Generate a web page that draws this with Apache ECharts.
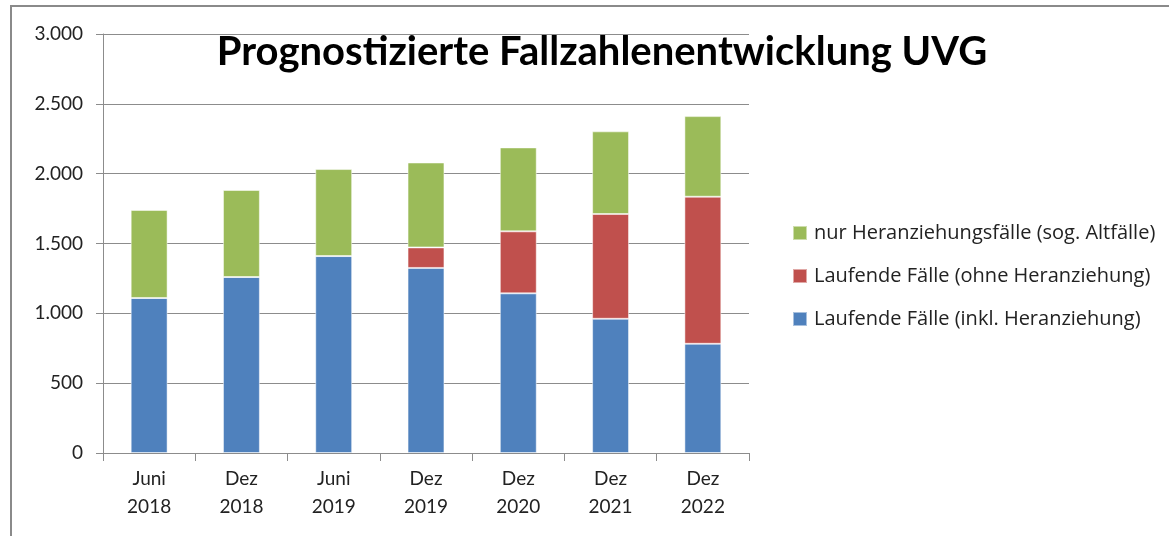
<!DOCTYPE html>
<html>
<head>
<meta charset="utf-8">
<script src="https://cdn.jsdelivr.net/npm/echarts@6/dist/echarts.min.js"></script>
<style>
  html, body { margin: 0; padding: 0; background: #fff; }
  #chart { width: 1169px; height: 536px; }
</style>
</head>
<body>
<div id="chart"></div>
<script>
const categories = ["Juni\n2018", "Dez\n2018", "Juni\n2019", "Dez\n2019", "Dez\n2020", "Dez\n2021", "Dez\n2022"];
const laufendInkl = [1110, 1260, 1410, 1325, 1143, 961, 782];
const laufendOhne = [0, 0, 0, 147, 444, 750, 1053];
const nurHeranziehung = [630, 623, 623, 608, 601, 592, 577];

const fontFamily = "Lato, 'Open Sans', sans-serif";
const chart = echarts.init(document.getElementById("chart"));

const barStyle = (color) => ({
  color: color,
  borderColor: "rgba(255,255,255,0.5)",
  borderWidth: 1
});

// 1.500 statt 1,500
const fmt = (v) => v >= 1000 ? Math.floor(v / 1000) + "." + String(v % 1000).padStart(3, "0") : String(v);

chart.setOption({
  animation: false,
  title: {
    text: "Prognostizierte Fallzahlenentwicklung UVG",
    left: 597,
    top: 27,
    textAlign: "center",
    textStyle: { fontFamily: fontFamily, fontSize: 40, fontWeight: "bold", color: "#000" }
  },
  graphic: [{
    type: "rect",
    shape: { x: 11, y: 6, width: 1200, height: 600 },
    style: { fill: "none", stroke: "#8a8a8a", lineWidth: 2 },
    silent: true
  }],
  legend: {
    orient: "vertical",
    left: 787,
    top: 218,
    itemGap: 23,
    itemWidth: 14,
    itemHeight: 14,
    icon: "rect",
    textStyle: { fontFamily: "'Open Sans', sans-serif", fontSize: 20, color: "#222", padding: [0, 0, 0, 2] },
    data: ["nur Heranziehungsfälle (sog. Altfälle)", "Laufende Fälle (ohne Heranziehung)", "Laufende Fälle (inkl. Heranziehung)"]
  },
  grid: { left: 103, right: 420, top: 34, bottom: 83 },
  xAxis: {
    type: "category",
    data: categories,
    axisLine: { lineStyle: { color: "#8c8c8c" } },
    axisTick: { show: true, length: 8, lineStyle: { color: "#8c8c8c" } },
    axisLabel: { fontFamily: fontFamily, fontSize: 19, color: "#222", lineHeight: 28, margin: 12 }
  },
  yAxis: {
    type: "value",
    min: 0,
    max: 3000,
    interval: 500,
    axisLine: { show: true, lineStyle: { color: "#8c8c8c" } },
    axisTick: { show: true, length: 7, lineStyle: { color: "#8c8c8c" } },
    splitLine: { lineStyle: { color: "#8c8c8c" } },
    axisLabel: { fontFamily: fontFamily, fontSize: 19, color: "#222", margin: 20, formatter: fmt }
  },
  series: [
    { name: "Laufende Fälle (inkl. Heranziehung)", type: "bar", stack: "a", barWidth: "40%", data: laufendInkl, itemStyle: barStyle("#4f81bd") },
    { name: "Laufende Fälle (ohne Heranziehung)", type: "bar", stack: "a", data: laufendOhne, itemStyle: barStyle("#c0504d") },
    { name: "nur Heranziehungsfälle (sog. Altfälle)", type: "bar", stack: "a", data: nurHeranziehung, itemStyle: barStyle("#9bbb59") }
  ]
});
</script>
</body>
</html>
